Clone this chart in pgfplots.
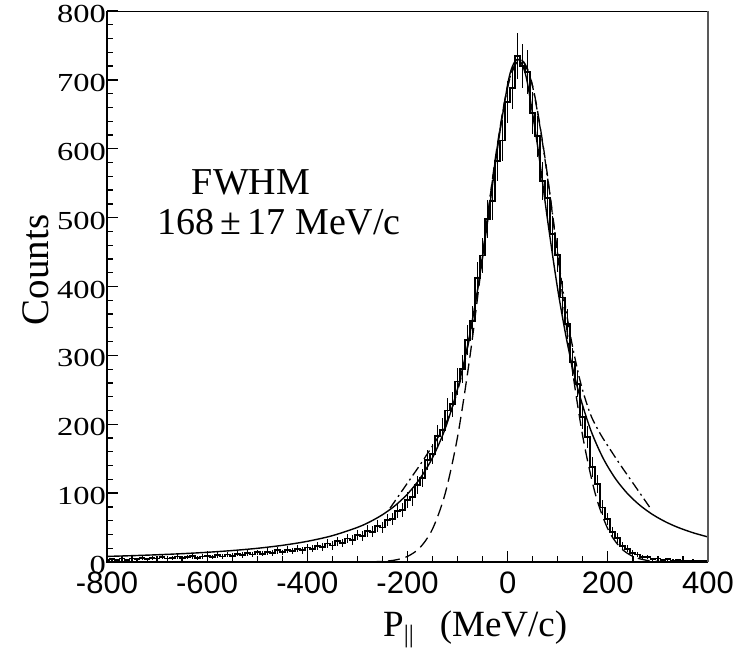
\documentclass[border=0pt]{standalone}
\usepackage{fontspec}
\setmainfont{Liberation Serif}
\setsansfont{Liberation Sans}
\usepackage{graphicx}
\usepackage{pgfplots}
\usepackage{pgfplotstable}
\pgfplotsset{compat=1.18}

% Measured longitudinal momentum distribution: bin centre, counts, error
\pgfplotstableread{
x y e
-800 3 2
-790 4 2
-780 3 2
-770 5 3
-760 3 2
-750 5 3
-740 4 2
-730 6 3
-720 4 2
-710 6 3
-700 5 3
-690 7 3
-680 5 3
-670 6 3
-660 8 3
-650 6 3
-640 7 3
-630 9 4
-620 6 3
-610 8 3
-600 9 4
-590 7 3
-580 10 4
-570 8 3
-560 11 4
-550 9 4
-540 12 4
-530 10 4
-520 13 4
-510 11 4
-500 14 4
-490 12 4
-480 15 5
-470 13 4
-460 17 5
-450 14 4
-440 18 5
-430 16 5
-420 19 5
-410 17 5
-400 21 5
-390 19 5
-380 23 6
-370 22 6
-360 27 6
-350 24 6
-340 30 7
-330 28 6
-320 34 7
-310 32 7
-300 39 7
-290 38 7
-280 45 8
-270 44 8
-260 52 9
-250 50 8
-240 61 9
-230 62 9
-220 74 10
-210 76 10
-200 90 11
-190 94 12
-180 112 13
-170 122 13
-160 148 15
-150 157 15
-140 183 16
-130 192 17
-120 220 18
-110 229 18
-100 262 19
-90 280 20
-80 322 22
-70 350 22
-60 412 24
-50 445 25
-40 498 27
-30 524 27
-20 582 29
-10 612 30
0 668 31
10 688 31
20 735 33
30 720 32
40 712 32
50 652 31
60 618 30
70 553 28
80 528 28
90 476 26
100 446 25
110 384 24
120 346 22
130 290 20
140 259 19
150 210 17
160 182 16
170 138 14
180 113 13
190 79 11
200 62 9
210 43 8
220 35 7
230 23 6
240 19 5
250 13 4
260 11 4
270 7 3
280 7 3
290 4 2
300 5 3
310 3 2
320 4 2
330 2 2
340 3 2
350 2 2
360 1 1
370 2 2
380 1 1
390 1 1
400 1 1
}\datatable

% Lorentzian fit (solid)
\pgfplotstableread{
x y
-800 8.13
-750 9.20
-700 10.51
-650 12.10
-600 14.10
-550 16.62
-500 19.88
-450 24.18
-400 30.03
-350 38.24
-300 50.24
-275 58.4
-250 68.67
-225 81.75
-200 98.72
-175 121.2
-150 151.5
-125 193.2
-100 251.5
-80 314.5
-60 395.6
-40 494.7
-20 602.6
0 693.4
10 720.5
20 730
30 720.5
40 693.4
60 602.6
80 494.7
100 395.6
120 314.5
140 251.5
165 193.2
190 151.5
215 121.2
240 98.72
265 81.75
290 68.67
315 58.4
340 50.24
370 42.5
400 36.36
}\lorentz

% Gaussian fit (dashed)
\pgfplotstableread{
x y
-275 0.24
-250 0.88
-225 2.8
-200 8.1
-175 20.9
-150 48.0
-125 98.8
-100 182
-75 300
-50 442.8
-25 584.5
0 690.5
25 730
50 690.5
75 584.5
100 442.8
125 300
150 182
175 98.8
200 48.0
225 20.9
250 8.1
275 2.8
300 0.88
350 0.03
}\gauss

% Model calculation (dash-dotted)
\pgfplotstableread{
x y
-235 78
-215 99
-195 120
-175 141
-155 163
-135 186
-115 215
-95 262
-75 330
-55 420
-35 530
-15 630
5 705
25 730
45 705
65 630
85 530
105 420
125 330
145 262
165 215
185 186
205 163
225 141
245 120
265 99
285 78
}\model

\begin{document}
\begin{tikzpicture}
\useasboundingbox (-107pt,-87pt) rectangle (638pt,562pt);
\begin{axis}[
  name=ax,
  at={(0pt,0pt)}, anchor=south west,
  scale only axis, width=601pt, height=551pt,
  xmin=-800, xmax=400, ymin=0, ymax=800,
  xtick={-800,-600,...,400},
  xticklabels={-800,-600,-400,-200,0,200,400},
  ytick={0,100,...,800},
  yticklabel={\scalebox{1.25}[1]{\pgfmathprintnumber[assume math mode=true]{\tick}}},
  minor x tick num=3, minor y tick num=4,
  tick align=inside, xtick pos=bottom, ytick pos=left,
  major tick length=11pt, minor tick length=6pt,
  every tick/.style={black, line width=1.3pt},
  axis line style={draw=none},
  xticklabel style={font=\sffamily\fontsize{31}{31}\selectfont, inner sep=0pt, yshift=-10pt},
  yticklabel style={font=\fontsize{26}{26}\selectfont, inner sep=0pt, xshift=-1pt, yshift=-3pt},
]
  % data: histogram with statistical errors
  \addplot[black, line width=1.8pt, const plot mark mid,
    error bars/.cd, y dir=both, y explicit,
    error bar style={line width=1.1pt}, error mark=none]
    table[x=x, y=y, y error=e] {\datatable};
  \addplot[black, line width=1.3pt, smooth, dash pattern=on 12pt off 6pt]
    table[x=x, y=y] {\gauss};
  \addplot[black, line width=1.3pt, smooth, dash pattern=on 10pt off 4pt on 2pt off 4pt]
    table[x=x, y=y] {\model};
  \addplot[black, line width=1.4pt, smooth]
    table[x=x, y=y] {\lorentz};
\end{axis}
% frame
\draw[black, line width=1.8pt] (ax.north west) -- (ax.south west) -- (ax.south east);
\draw[black, line width=1pt] (ax.north west) -- (ax.north east);
\draw[gray!70!black, line width=2.6pt] (ax.south east) -- (ax.north east);
% annotations
\node[anchor=base, font=\fontsize{38}{38}\selectfont, inner sep=0pt] at (144pt,367pt) {FWHM};
\node[anchor=base, font=\fontsize{38}{38}\selectfont, inner sep=0pt] at (172pt,327pt) {168\,±\,17 MeV/c};
\node[anchor=base, rotate=90, font=\fontsize{39}{39}\selectfont, inner sep=0pt] at (-58pt,292pt) {Counts};
\node[anchor=base west, font=\fontsize{37}{37}\selectfont, inner sep=0pt] at (276pt,-74pt)
  {P\raisebox{-6pt}{\fontsize{25}{25}\selectfont||}\hspace{26pt}(MeV/c)};
\end{tikzpicture}
\end{document}
